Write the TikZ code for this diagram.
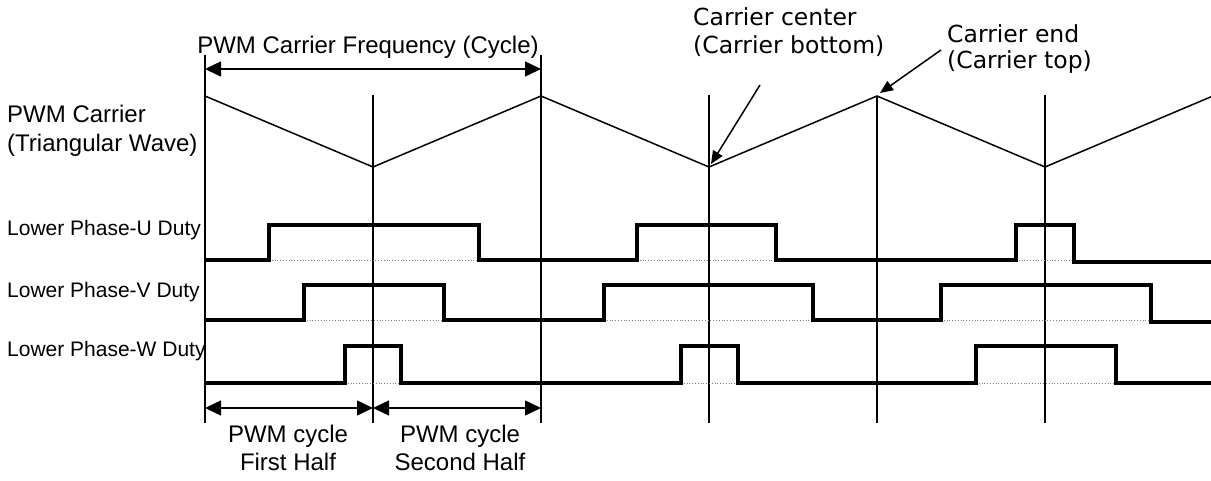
\documentclass[tikz,border=0pt]{standalone}
\usepackage{fontspec}
\setmainfont{Liberation Sans}
\newfontfamily\dvfont{DejaVu Sans}
\usetikzlibrary{arrows.meta}
\begin{document}
\begin{tikzpicture}[x=1pt,y=-1pt,
  thinline/.style={line width=1.5pt},
  wave/.style={line width=4pt, line join=miter},
  dotline/.style={gray, line width=0.8pt, dotted},
  dimarrow/.style={line width=1.5pt, {Triangle[length=16pt,width=15pt]}-{Triangle[length=16pt,width=15pt]}},
  callout/.style={line width=1.5pt, -{Triangle[length=13pt,width=11pt]}},
  bigtxt/.style={inner sep=0pt, font=\fontsize{24}{28}\selectfont},
  smalltxt/.style={inner sep=0pt, anchor=base west, font=\fontsize{21}{25}\selectfont},
  dvtxt/.style={inner sep=0pt, anchor=base west, font=\dvfont\fontsize{23.5}{28}\selectfont}
]
\useasboundingbox (0,0) rectangle (1211,480);
% vertical reference lines
\foreach \n/\x/\t in {a/205/55, b/373/95, c/541/55, d/709/95, e/877/96, f/1045/95}{
  \coordinate (\n t) at (\x,\t);
  \coordinate (\n b) at (\x,423);
  \draw[thinline] (\n t) -- (\n b);
}
% triangular carrier
\draw[thinline] (205,96) -- (373,167) -- (541,96) -- (709,167) -- (877,96) -- (1045,167) -- (1211,96.8);
% dimension arrows
\coordinate (fa) at (205,69); \coordinate (fc) at (541,69);
\draw[dimarrow] (fa) -- (fc);
\coordinate (ha) at (205,408); \coordinate (hb) at (373,408); \coordinate (hc) at (541,408);
\draw[dimarrow] (ha) -- (hb);
\draw[dimarrow] (hb) -- (hc);
% labels
\node[bigtxt, anchor=base] (freq) at (368,53) {PWM Carrier Frequency (Cycle)};
\node[bigtxt, anchor=base west] (car1) at (7,122) {PWM Carrier};
\node[bigtxt, anchor=base west] (car2) at (7,151) {(Triangular Wave)};
\node[smalltxt] (lu) at (7,235) {Lower Phase-U Duty};
\node[smalltxt] (lv) at (7,297) {Lower Phase-V Duty};
\node[smalltxt] (lw) at (7,356) {Lower Phase-W Duty};
\node[bigtxt, anchor=base] (h1a) at (288,442) {PWM cycle};
\node[bigtxt, anchor=base] (h1b) at (288,470) {First Half};
\node[bigtxt, anchor=base] (h2a) at (460,442) {PWM cycle};
\node[bigtxt, anchor=base] (h2b) at (460,470) {Second Half};
\node[dvtxt] (cc1) at (693,25) {Carrier center};
\node[dvtxt] (cc2) at (693,53) {(Carrier bottom)};
\node[dvtxt] (ce1) at (947,42) {Carrier end};
\node[dvtxt] (ce2) at (947,68) {(Carrier top)};
% callouts
\coordinate (ccs) at (760,85); \coordinate (cct) at (711,164);
\coordinate (ces) at (941,50); \coordinate (cet) at (880,93);
\draw[callout] (ccs) -- (cct);
\draw[callout] (ces) -- (cet);
% dotted low levels
\foreach \a/\b/\y in {269/479/260, 637/776/260, 1016/1074/260,
                      304/444/320, 604/813/320, 941/1151/320,
                      345/401/383, 681/738/383, 976/1116/383}{
  \draw[dotline] (\a,\y) -- (\b,\y);
}
% duty waveforms
\draw[wave] (205,260) -- (269,260) -- (269,225) -- (479,225) -- (479,260) -- (637,260) -- (637,225) -- (776,225) -- (776,260) -- (1016,260) -- (1016,225) -- (1074,225) -- (1074,261.5) -- (1211,261.5);
\draw[wave] (205,320) -- (304,320) -- (304,285) -- (444,285) -- (444,320) -- (604,320) -- (604,285) -- (813,285) -- (813,320) -- (941,320) -- (941,285) -- (1151,285) -- (1151,322) -- (1211,322);
\draw[wave] (205,383) -- (345,383) -- (345,346) -- (401,346) -- (401,383) -- (681,383) -- (681,346) -- (738,346) -- (738,383) -- (976,383) -- (976,346) -- (1116,346) -- (1116,383) -- (1211,383);
\end{tikzpicture}
\end{document}
